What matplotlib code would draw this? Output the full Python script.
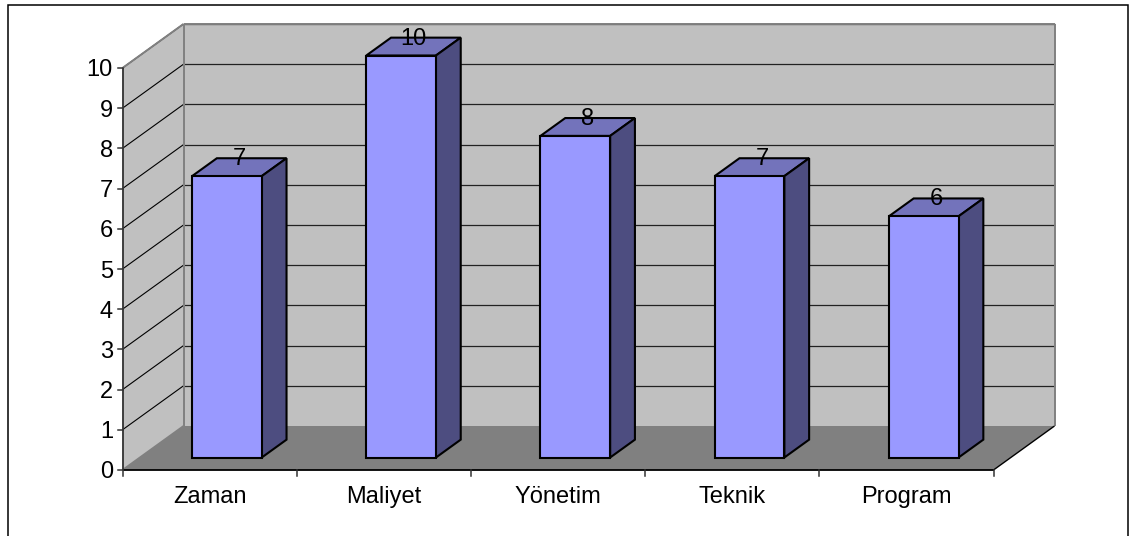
import matplotlib
matplotlib.use("Agg")
import matplotlib.pyplot as plt
from matplotlib.patches import Polygon, Rectangle

categories = ["Zaman", "Maliyet", "Yönetim", "Teknik", "Program"]
values = [7, 10, 8, 7, 6]
y_ticks = list(range(0, 11))

W, H = 1134, 536
L, R, T, B = 122.5, 993.5, 68, 470   # front plane, pixels
DX_PX, DY_PX = 61, 44                # depth offset, pixels
FS = 17

plt.rcParams["font.family"] = ["Liberation Sans", "DejaVu Sans"]
fig = plt.figure(figsize=(W / 100, H / 100), dpi=100, facecolor="white")
fig.add_artist(Rectangle((7.5 / W, -0.01), (1128 - 7.5) / W, (H - 4.5) / H + 0.01,
                         transform=fig.transFigure, fill=False, ec="black", lw=1.1))
ax = fig.add_axes([L / W, 1 - B / H, (R - L) / W, (B - T) / H])
n = len(categories)
ax.set_xlim(0, n)
ax.set_ylim(0, 10)
ax.axis("off")

ux = (R - L) / n
uy = (B - T) / 10
DX, DY = DX_PX / ux, DY_PX / uy


def P(x, y, d=0.0):
    """Project category/value coordinates at depth fraction d."""
    return (x + d * DX, y + d * DY)


def poly(pts, fc, ec="none", lw=0, z=1):
    ax.add_patch(Polygon(pts, closed=True, fc=fc, ec=ec, lw=lw, zorder=z,
                         clip_on=False, joinstyle="miter"))


def line(a, b, c, lw, z=2):
    ax.plot([a[0], b[0]], [a[1], b[1]], color=c, lw=lw, zorder=z, clip_on=False,
            solid_capstyle="butt")


GRAY = "#c0c0c0"
EDGE = "#808080"
# walls and floor
poly([P(0, 0, 1), P(n, 0, 1), P(n, 10, 1), P(0, 10, 1)], GRAY)
poly([P(0, 0), P(0, 0, 1), P(0, 10, 1), P(0, 10)], GRAY)
poly([P(0, 0), P(n, 0), P(n, 0, 1), P(0, 0, 1)], EDGE)

# gridlines
for v in y_ticks[1:]:
    line(P(0, v), P(0, v, 1), "black", 0.8)
    line(P(0, v, 1), P(n, v, 1), "#222222", 0.9)

# wall edges
line(P(0, 10), P(0, 10, 1), EDGE, 1.4, 3)
line(P(0, 10, 1), P(n, 10, 1), EDGE, 1.4, 3)
line(P(0, 0, 1), P(0, 10, 1), EDGE, 1.4, 3)
line(P(n, 0, 1), P(n, 10, 1), EDGE, 1.4, 3)
line(P(0, 0), P(0, 0, 1), EDGE, 1.3, 3)
line(P(n, 0), P(n, 0, 1), "black", 1.0, 3)

# axes with ticks
line(P(0, 0), P(0, 10), "#333333", 1.3, 4)
line(P(0, 0), P(n, 0), "black", 1.3, 4)
for v in y_ticks:
    ax.plot([-5 / ux, 0], [v, v], color="#333333", lw=1.1, clip_on=False, zorder=4)
    ax.text(-9.5 / ux, v, str(v), ha="right", va="center_baseline", fontsize=FS, color="black",
            clip_on=False)
for i in range(n + 1):
    ax.plot([i, i], [0, -6 / uy], color="#333333", lw=1.1, clip_on=False, zorder=4)

# bars
D0, D1 = 0.284, 0.69
BW = 0.40
for i, (c, v) in enumerate(zip(categories, values)):
    x0, x1 = i + 0.5 - BW / 2, i + 0.5 + BW / 2
    z = 5 + i
    kw = dict(ec="black", lw=1.5, z=z)
    poly([P(x0, v, D0), P(x1, v, D0), P(x1, v, D1), P(x0, v, D1)], "#7373bb", **kw)
    poly([P(x1, 0, D0), P(x1, 0, D1), P(x1, v, D1), P(x1, v, D0)], "#4d4d80", **kw)
    poly([P(x0, 0, D0), P(x1, 0, D0), P(x1, v, D0), P(x0, v, D0)], "#9999ff", **kw)
    tx, ty = P(i + 0.5, v, (D0 + D1) / 2)
    ax.text(tx, ty + 8 / uy, str(v), ha="center", va="center", fontsize=FS,
            color="black", zorder=20, clip_on=False)
    ax.text(i + 0.5, -24.5 / uy, c, ha="center", va="center_baseline", fontsize=FS,
            color="black", clip_on=False)

fig.savefig("out.png", dpi=100)
